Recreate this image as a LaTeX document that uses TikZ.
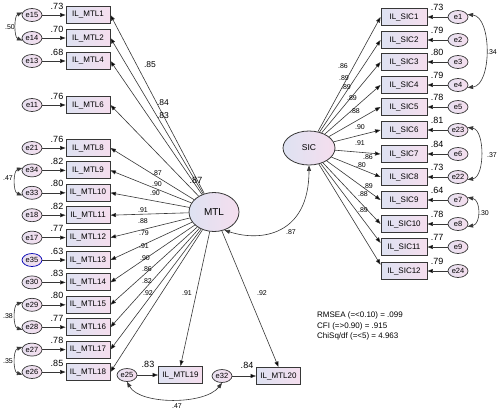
\documentclass[tikz,border=0pt]{standalone}
\usepackage{fontspec}
\setmainfont{Liberation Sans}
\usetikzlibrary{arrows.meta,shapes.geometric}
\definecolor{fillleft}{RGB}{222,226,242}
\definecolor{fillright}{RGB}{245,222,238}
\definecolor{linegray}{RGB}{55,55,55}

\begin{document}
\begin{tikzpicture}[x=1pt,y=-1pt,>={Triangle[length=5.5pt,width=4pt]},
  obs/.style={rectangle,draw=linegray,line width=0.9pt,left color=fillleft,right color=fillright,
    minimum width=44pt,minimum height=17pt,inner sep=0pt,font=\fontsize{8}{8}\selectfont},
  err/.style={ellipse,draw=linegray,line width=0.7pt,left color=fillleft!60!fillright,right color=fillright,
    minimum width=20pt,minimum height=13pt,inner sep=0pt,font=\fontsize{7.5}{7.5}\selectfont},
  lat/.style={ellipse,draw=linegray,line width=0.8pt,left color=fillleft,right color=fillright,inner sep=0pt},
  rsq/.style={inner sep=0pt,font=\fontsize{9}{9}\selectfont},
  coef/.style={inner sep=0pt,font=\fontsize{7}{7}\selectfont}]

\path[use as bounding box,fill=white] (0,0) rectangle (500,410);

% latent variables
\node[lat,minimum width=50pt,minimum height=39pt,font=\fontsize{10}{10}\selectfont] (MTL) at (214,212) {MTL};
\node[lat,minimum width=52pt,minimum height=34pt,font=\fontsize{8.5}{9}\selectfont] (SIC) at (309,148) {SIC};

% MTL indicators
\node[obs] (mtl1) at (88,15) {IL\_MTL1};
\node[obs] (mtl2) at (88,38) {IL\_MTL2};
\node[obs] (mtl4) at (88,61) {IL\_MTL4};
\node[obs] (mtl6) at (88,105) {IL\_MTL6};
\node[obs] (mtl8) at (88,148) {IL\_MTL8};
\node[obs] (mtl9) at (88,170.4) {IL\_MTL9};
\node[obs] (mtl10) at (88,192.8) {IL\_MTL10};
\node[obs] (mtl11) at (88,215.2) {IL\_MTL11};
\node[obs] (mtl12) at (88,237.6) {IL\_MTL12};
\node[obs] (mtl13) at (88,260) {IL\_MTL13};
\node[obs] (mtl14) at (88,282.4) {IL\_MTL14};
\node[obs] (mtl15) at (88,304.8) {IL\_MTL15};
\node[obs] (mtl16) at (88,327.2) {IL\_MTL16};
\node[obs] (mtl17) at (88,349.6) {IL\_MTL17};
\node[obs] (mtl18) at (88,372) {IL\_MTL18};
\node[obs] (mtl19) at (180.5,375) {IL\_MTL19};
\node[obs] (mtl20) at (278.5,376) {IL\_MTL20};

% MTL errors
\node[err] (e15) at (32,15) {e15};
\node[err] (e14) at (32,38) {e14};
\node[err] (e13) at (32,61) {e13};
\node[err] (e11) at (32,105) {e11};
\node[err] (e21) at (32,148) {e21};
\node[err] (e34) at (32,170.4) {e34};
\node[err] (e33) at (32,192.8) {e33};
\node[err] (e18) at (32,215.2) {e18};
\node[err] (e17) at (32,237.6) {e17};
\node[err,draw=blue!70!black] (e35) at (32,260) {e35};
\node[err] (e30) at (32,282.4) {e30};
\node[err] (e29) at (32,304.8) {e29};
\node[err] (e28) at (32,327.2) {e28};
\node[err] (e27) at (32,349.6) {e27};
\node[err] (e26) at (32,372) {e26};
\node[err] (e25) at (127,375) {e25};
\node[err] (e32) at (222,376) {e32};

% SIC indicators
\node[obs,minimum width=46pt] (sic1) at (404,17) {IL\_SIC1};
\node[obs,minimum width=46pt] (sic2) at (404,40) {IL\_SIC2};
\node[obs,minimum width=46pt] (sic3) at (404,62) {IL\_SIC3};
\node[obs,minimum width=46pt] (sic4) at (404,85) {IL\_SIC4};
\node[obs,minimum width=46pt] (sic5) at (404,107) {IL\_SIC5};
\node[obs,minimum width=46pt] (sic6) at (404,130) {IL\_SIC6};
\node[obs,minimum width=46pt] (sic7) at (404,154) {IL\_SIC7};
\node[obs,minimum width=46pt] (sic8) at (404,177) {IL\_SIC8};
\node[obs,minimum width=46pt] (sic9) at (404,200) {IL\_SIC9};
\node[obs,minimum width=46pt] (sic10) at (404,224) {IL\_SIC10};
\node[obs,minimum width=46pt] (sic11) at (404,247) {IL\_SIC11};
\node[obs,minimum width=46pt] (sic12) at (404,271) {IL\_SIC12};

% SIC errors
\node[err] (e1) at (458,17) {e1};
\node[err] (e2) at (458,40) {e2};
\node[err] (e3) at (458,62) {e3};
\node[err] (e4) at (458,85) {e4};
\node[err] (e5) at (458,107) {e5};
\node[err] (e23) at (458,130) {e23};
\node[err] (e6) at (458,154) {e6};
\node[err] (e22) at (458,177) {e22};
\node[err] (e7) at (458,200) {e7};
\node[err] (e8) at (458,224) {e8};
\node[err] (e9) at (458,247) {e9};
\node[err] (e24) at (458,271) {e24};

\path[draw=linegray,line width=0.6pt]
(MTL) edge[->] (mtl1.east)
(MTL) edge[->] (mtl2.east)
(MTL) edge[->] (mtl4.east)
(MTL) edge[->] (mtl6.east)
(MTL) edge[->] (mtl8.east)
(MTL) edge[->] (mtl9.east)
(MTL) edge[->] (mtl10.east)
(MTL) edge[->] (mtl11.east)
(MTL) edge[->] (mtl12.east)
(MTL) edge[->] (mtl13.east)
(MTL) edge[->] (mtl14.east)
(MTL) edge[->] (mtl15.east)
(MTL) edge[->] (mtl16.east)
(MTL) edge[->] (mtl17.east)
(MTL) edge[->] (mtl18.east)
(MTL) edge[->] (mtl19.north)
(MTL) edge[->] (mtl20.north)
(SIC) edge[->] (sic1.west)
(SIC) edge[->] (sic2.west)
(SIC) edge[->] (sic3.west)
(SIC) edge[->] (sic4.west)
(SIC) edge[->] (sic5.west)
(SIC) edge[->] (sic6.west)
(SIC) edge[->] (sic7.west)
(SIC) edge[->] (sic8.west)
(SIC) edge[->] (sic9.west)
(SIC) edge[->] (sic10.west)
(SIC) edge[->] (sic11.170)
(SIC) edge[->] (sic12.165);

% error paths
\path[draw=linegray,line width=0.6pt]
(e15) edge[->] (mtl1) (e14) edge[->] (mtl2) (e13) edge[->] (mtl4)
(e11) edge[->] (mtl6) (e21) edge[->] (mtl8) (e34) edge[->] (mtl9)
(e33) edge[->] (mtl10) (e18) edge[->] (mtl11) (e17) edge[->] (mtl12)
(e35) edge[->] (mtl13) (e30) edge[->] (mtl14) (e29) edge[->] (mtl15)
(e28) edge[->] (mtl16) (e27) edge[->] (mtl17) (e26) edge[->] (mtl18)
(e25) edge[->] (mtl19) (e32) edge[->] (mtl20)
(e1) edge[->] (sic1) (e2) edge[->] (sic2) (e3) edge[->] (sic3)
(e4) edge[->] (sic4) (e5) edge[->] (sic5) (e23) edge[->] (sic6)
(e6) edge[->] (sic7) (e22) edge[->] (sic8) (e7) edge[->] (sic9)
(e8) edge[->] (sic10) (e9) edge[->] (sic11) (e24) edge[->] (sic12);

% covariances
\draw[<->,draw=linegray,line width=0.6pt] (MTL.-60) .. controls (260,242) and (309,236) .. (SIC.south);
\draw[<->,draw=linegray,line width=0.6pt] (e15.165) .. controls (14,16) and (14,37) .. (e14.195);
\draw[<->,draw=linegray,line width=0.6pt] (e34.165) .. controls (13,171) and (13,192) .. (e33.195);
\draw[<->,draw=linegray,line width=0.6pt] (e29.165) .. controls (13,305) and (13,327) .. (e28.195);
\draw[<->,draw=linegray,line width=0.6pt] (e27.165) .. controls (13,350) and (13,372) .. (e26.195);
\draw[<->,draw=linegray,line width=0.6pt] (e25.south) .. controls (140,405) and (205,405) .. (e32.south);
\draw[<->,draw=linegray,line width=0.6pt] (e1.15) .. controls (492,17) and (492,85) .. (e4.-15);
\draw[<->,draw=linegray,line width=0.6pt] (e23.15) .. controls (485,130) and (485,177) .. (e22.-15);
\draw[<->,draw=linegray,line width=0.6pt] (e7.15) .. controls (481,200) and (481,224) .. (e8.-15);

% squared multiple correlations
\node[rsq] (rm1) at (57,6) {.73};
\node[rsq] (rm2) at (57,29) {.70};
\node[rsq] (rm4) at (57,52) {.68};
\node[rsq] (rm6) at (57,96) {.76};
\node[rsq] (rm8) at (57,139) {.76};
\node[rsq] (rm9) at (57,161.4) {.82};
\node[rsq] (rm10) at (57,183.8) {.80};
\node[rsq] (rm11) at (57,206.2) {.82};
\node[rsq] (rm12) at (57,228.6) {.77};
\node[rsq] (rm13) at (57,251) {.63};
\node[rsq] (rm14) at (57,273.4) {.83};
\node[rsq] (rm15) at (57,295.8) {.80};
\node[rsq] (rm16) at (57,318.2) {.77};
\node[rsq] (rm17) at (57,340.6) {.78};
\node[rsq] (rm18) at (57,363) {.85};
\node[rsq] (rm19) at (148,364) {.83};
\node[rsq] (rm20) at (247,365) {.84};
\node[rsq] (rs1) at (437,7) {.73};
\node[rsq] (rs2) at (437,30) {.79};
\node[rsq] (rs3) at (437,52) {.80};
\node[rsq] (rs4) at (437,75) {.79};
\node[rsq] (rs5) at (437,97) {.78};
\node[rsq] (rs6) at (437,120) {.81};
\node[rsq] (rs7) at (437,144) {.84};
\node[rsq] (rs8) at (437,167) {.73};
\node[rsq] (rs9) at (437,190) {.64};
\node[rsq] (rs10) at (437,214) {.78};
\node[rsq] (rs11) at (437,237) {.77};
\node[rsq] (rs12) at (437,261) {.79};

% loadings
\node[coef,font=\fontsize{8.5}{9}\selectfont] (lm1) at (150,65) {.85};
\node[coef,font=\fontsize{8.5}{9}\selectfont] (lm2) at (163,103) {.84};
\node[coef,font=\fontsize{8.5}{9}\selectfont] (lm4) at (163,116) {.83};
\node[rsq] (lm6) at (196,180) {.87};
\node[coef] (lm8) at (157,173) {.87};
\node[coef] (lm9) at (157,184) {.90};
\node[coef] (lm10) at (155,193) {.90};
\node[coef] (lm11) at (143,210) {.91};
\node[coef] (lm12) at (143,221) {.88};
\node[coef] (lm13) at (144,233) {.79};
\node[coef] (lm14) at (144,246) {.91};
\node[coef] (lm15) at (145,258) {.90};
\node[coef] (lm16) at (147,269) {.86};
\node[coef] (lm17) at (147,281) {.82};
\node[coef] (lm18) at (148,293) {.92};
\node[coef] (lm19) at (187,293) {.91};
\node[coef] (lm20) at (262,293) {.92};
\node[coef] (ls1) at (343,66) {.86};
\node[coef] (ls2) at (344,78) {.89};
\node[coef] (ls3) at (346,87) {.89};
\node[coef] (ls4) at (352,98) {.89};
\node[coef] (ls5) at (355,111) {.88};
\node[coef] (ls6) at (360,127) {.90};
\node[coef] (ls7) at (360,143) {.91};
\node[coef] (ls8) at (368,157) {.86};
\node[coef] (ls9) at (361,165) {.80};
\node[coef] (ls10) at (368,186) {.89};
\node[coef] (ls11) at (363,194) {.88};
\node[coef] (ls12) at (363,210) {.89};

% correlations
\node[coef] (c1) at (291,232) {.87};
\node[coef] (c2) at (10,27) {.50};
\node[coef] (c3) at (8,178) {.47};
\node[coef] (c4) at (8,316) {.38};
\node[coef] (c5) at (8,361) {.35};
\node[coef] (c6) at (177,406) {.47};
\node[coef] (c7) at (492,52) {.34};
\node[coef] (c8) at (492,155) {.37};
\node[coef] (c9) at (484,213) {.30};

% fit indices
\node[anchor=west,align=left,inner sep=0pt,font=\fontsize{8}{10.5}\selectfont] (fit) at (317,326)
  {RMSEA (=<0.10) = .099\\CFI (=>0.90) = .915\\ChiSq/df (=<5) = 4.963};

\end{tikzpicture}
\end{document}
